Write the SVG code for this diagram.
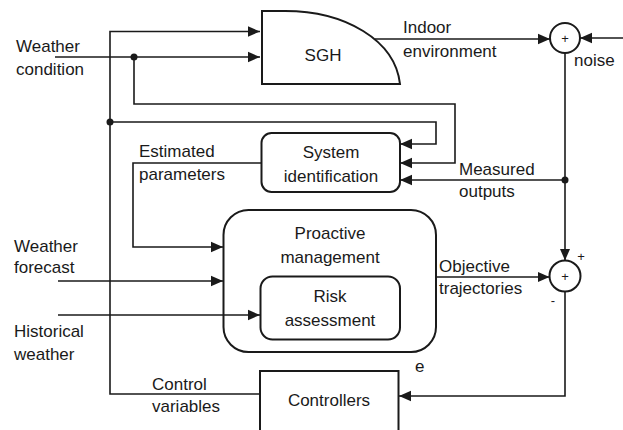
<svg xmlns="http://www.w3.org/2000/svg" width="623" height="430" viewBox="0 0 623 430">
<style>
.box{fill:#fff;stroke:#1a1a1a;stroke-width:2}
.ln{fill:none;stroke:#1a1a1a;stroke-width:1.6}
.ar{marker-end:url(#arr)}
text{font-family:"Liberation Sans",Arial,sans-serif;font-size:17px;fill:#1a1a1a}
.c{text-anchor:middle}
.dot{fill:#1a1a1a}
.sm{font-size:13px}
</style>
<defs>
<marker id="arr" markerUnits="userSpaceOnUse" markerWidth="12" markerHeight="12" viewBox="0 0 12 12" refX="12" refY="6" orient="auto">
<path d="M0,0.8 L12,6 L0,11.2 Z" fill="#1a1a1a"/>
</marker>
</defs>
<rect width="623" height="430" fill="#fff"/>
<g id="sgh">
<path class="box" d="M262,84 V11 H285 C345,11 395,40 400,84 Z"/>
<text class="c" x="323" y="61">SGH</text>
</g>
<g id="sum1">
<circle class="box" cx="565" cy="38" r="15" stroke-width="1.6"/>
<text class="sm c" x="565" y="43">+</text>
</g>
<g id="sum2">
<circle class="box" cx="565" cy="276" r="15.5" stroke-width="1.6"/>
<text class="sm c" x="565" y="281">+</text>
</g>
<g id="sysid">
<rect class="box" x="261.5" y="133" width="138.5" height="59" rx="10"/>
<text class="c" x="331" y="158">System</text>
<text class="c" x="331" y="182">identification</text>
</g>
<g id="proactive">
<rect class="box" x="223.5" y="210" width="212.5" height="142" rx="25"/>
<text class="c" x="330" y="239">Proactive</text>
<text class="c" x="330" y="263">management</text>
</g>
<g id="risk">
<rect class="box" x="260.5" y="276.5" width="139.5" height="63" rx="12"/>
<text class="c" x="330" y="302">Risk</text>
<text class="c" x="330" y="326">assessment</text>
</g>
<g id="controllers">
<rect class="box" x="260" y="371" width="138.5" height="70"/>
<text class="c" x="329" y="406">Controllers</text>
</g>
<g id="connectors">
<path class="ln ar" d="M260,394 H110 V31.5 H260"/>
<path class="ln ar" d="M110,122 H436 V144 H400"/>
<path class="ln ar" d="M55,57 H260"/>
<path class="ln ar" d="M134,57 V104 H455 V163 H400"/>
<path class="ln ar" d="M375,39 H550"/>
<path class="ln ar" d="M623,38 H580"/>
<path class="ln ar" d="M565,53 V260.5"/>
<path class="ln ar" d="M565,180 H400"/>
<path class="ln ar" d="M261,163 H133 V247 H223"/>
<path class="ln ar" d="M58,281 H223"/>
<path class="ln ar" d="M58,315 H260"/>
<path class="ln ar" d="M436,277 H549.5"/>
<path class="ln ar" d="M565,291.5 V396 H399"/>
<circle class="dot" cx="134" cy="57" r="3.5"/>
<circle class="dot" cx="110" cy="122" r="3.5"/>
<circle class="dot" cx="565" cy="180" r="3.5"/>
<text x="16" y="52">Weather</text>
<text x="16" y="75">condition</text>
<text x="403" y="33">Indoor</text>
<text x="403" y="57">environment</text>
<text x="574" y="66">noise</text>
<text x="139" y="157">Estimated</text>
<text x="139" y="180">parameters</text>
<text x="459" y="175">Measured</text>
<text x="459" y="197">outputs</text>
<text x="14" y="252">Weather</text>
<text x="14" y="273">forecast</text>
<text x="14" y="337">Historical</text>
<text x="14" y="360">weather</text>
<text x="439" y="272">Objective</text>
<text x="439" y="294">trajectories</text>
<text x="152" y="390">Control</text>
<text x="152" y="412">variables</text>
<text x="415" y="372">e</text>
<text class="sm c" x="581" y="261">+</text>
<text class="sm c" x="553" y="305">-</text>
</g>
</svg>
